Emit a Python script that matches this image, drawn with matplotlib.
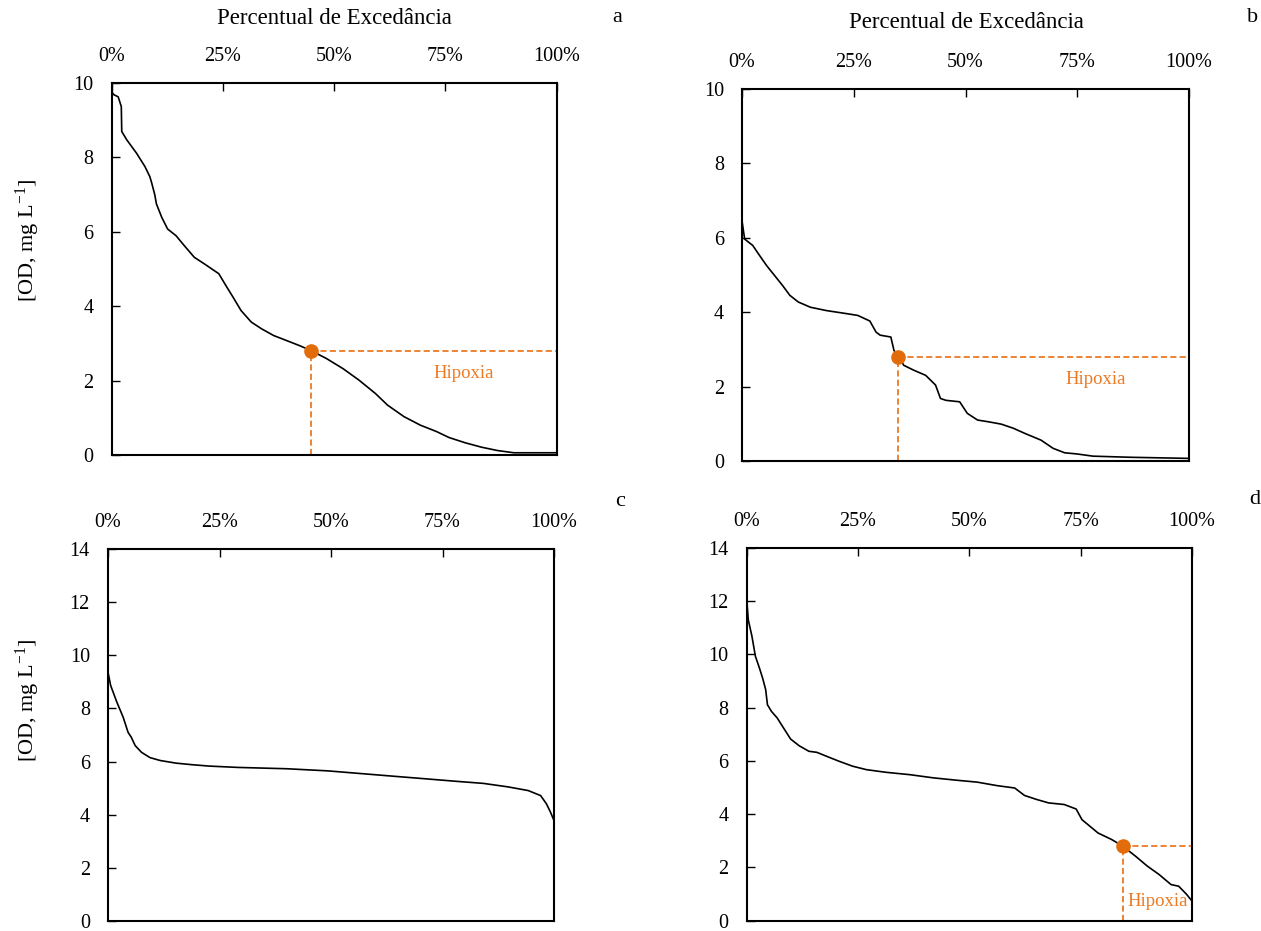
import matplotlib
matplotlib.use("Agg")
import matplotlib.pyplot as plt
from matplotlib.ticker import PercentFormatter

# exceedance (%) and dissolved oxygen (mg/L)
x_a = [0, 0.1, 0.5, 1.5, 2.2, 2.3, 3.4, 5.6, 7.5, 8.6, 9.0, 9.7, 10.1, 11.3, 12.6, 14.5,
       16.3, 18.6, 20.9, 24.1, 25.9, 27.3, 29.1, 31.4, 33.7, 36.4, 39.2, 42.4, 44.9,
       48.3, 52.0, 55.6, 59.3, 62.0, 65.7, 69.4, 73.0, 75.8, 79.4, 83.1, 86.7, 90.4, 100]
y_a = [10.0, 9.75, 9.68, 9.62, 9.36, 8.69, 8.47, 8.11, 7.75, 7.48, 7.32, 7.0, 6.74, 6.38,
       6.07, 5.89, 5.63, 5.31, 5.13, 4.87, 4.51, 4.24, 3.88, 3.57, 3.39, 3.21, 3.08, 2.93,
       2.8, 2.59, 2.32, 2.01, 1.65, 1.34, 1.03, 0.80, 0.63, 0.47, 0.33, 0.21, 0.12, 0.06, 0.06]

x_b = [0, 0.3, 0.6, 2.4, 3.7, 5.5, 7.3, 9.1, 10.7, 12.6, 15.3, 18.9, 23.3, 25.9, 28.6,
       30.0, 30.9, 33.3, 34.0, 35.0, 36.2, 38.4, 41.1, 43.3, 44.4, 45.6, 48.7, 50.4, 52.7,
       55.3, 58.0, 60.7, 63.3, 66.9, 69.6, 72.2, 74.9, 78.5, 86.9, 100]
y_b = [6.46, 6.2, 5.96, 5.79, 5.56, 5.25, 4.98, 4.71, 4.45, 4.27, 4.13, 4.04, 3.96, 3.91,
       3.76, 3.46, 3.38, 3.33, 2.97, 2.8, 2.57, 2.44, 2.30, 2.04, 1.68, 1.63, 1.59, 1.28,
       1.10, 1.05, 0.99, 0.88, 0.74, 0.56, 0.34, 0.22, 0.19, 0.13, 0.10, 0.07]

x_c = [0, 0.6, 2.0, 3.4, 4.5, 5.2, 6.1, 7.5, 9.4, 11.7, 15.3, 19.0, 22.7, 29.1, 40.1,
       49.3, 56.6, 63.9, 71.3, 78.6, 84.1, 89.6, 94.2, 97.0, 98.3, 99.2, 100]
y_c = [9.36, 8.86, 8.23, 7.67, 7.1, 6.92, 6.6, 6.35, 6.15, 6.04, 5.94, 5.88, 5.83, 5.78,
       5.73, 5.65, 5.55, 5.45, 5.35, 5.25, 5.18, 5.05, 4.91, 4.72, 4.41, 4.1, 3.78]

x_d = [0, 0.4, 1.2, 2.0, 2.9, 3.6, 4.3, 4.7, 5.6, 6.9, 8.3, 9.9, 11.8, 14.0, 15.8, 18.0,
       20.7, 23.8, 26.9, 31.3, 36.7, 42.0, 47.3, 51.8, 56.2, 60.2, 62.4, 65.1, 67.8, 71.3,
       74.0, 75.3, 77.1, 78.9, 82.0, 84.4, 87.3, 90.0, 92.6, 95.3, 97.0, 98.8, 100]
y_d = [12.18, 11.3, 10.7, 9.93, 9.49, 9.12, 8.68, 8.11, 7.86, 7.61, 7.24, 6.82, 6.57, 6.36,
       6.32, 6.17, 5.99, 5.80, 5.67, 5.57, 5.48, 5.36, 5.27, 5.20, 5.07, 4.98, 4.70, 4.55,
       4.42, 4.36, 4.19, 3.79, 3.54, 3.29, 3.04, 2.8, 2.42, 2.04, 1.73, 1.35, 1.29, 0.98, 0.73]

hipoxia = 2.8
hx_a = 44.9
hx_b = 35.0
hx_d = 84.4

plt.rcParams['font.family'] = ['Liberation Serif', 'DejaVu Serif']
plt.rcParams['mathtext.fontset'] = 'custom'
plt.rcParams['mathtext.rm'] = 'Liberation Serif'

ORANGE = '#EB7A25'
DOT = '#E36C0A'
W, H = 1261, 931

fig = plt.figure(figsize=(W / 100, H / 100), dpi=100)


def box(l, t, r, b):
    return [l / W, 1 - b / H, (r - l) / W, (b - t) / H]


def panel(rect, x, y, ymax, ystep):
    ax = fig.add_axes(rect)
    ax.plot(x, y, color='black', lw=1.2)
    ax.set_xlim(0, 100)
    ax.set_ylim(0, ymax)
    ax.set_xticks([0, 25, 50, 75, 100])
    ax.set_yticks(range(0, ymax + 1, ystep))
    ax.xaxis.set_major_formatter(PercentFormatter(100, decimals=0))
    ax.xaxis.tick_top()
    ax.tick_params(axis='x', direction='in', length=6, width=1, pad=12, labelsize=14.5)
    ax.tick_params(axis='y', direction='in', length=6, width=1, pad=13, labelsize=14.5)
    for s in ax.spines.values():
        s.set_linewidth(1.5)
    return ax


def hipoxia_marks(ax, hx):
    ax.plot([hx, 100], [hipoxia, hipoxia], ls=(0, (3.4, 1.8)), color=ORANGE, lw=1.3)
    ax.plot([hx, hx], [0, hipoxia], ls=(0, (3.4, 1.8)), color=ORANGE, lw=1.3)
    ax.plot([hx], [hipoxia], 'o', color=DOT, ms=9.5, zorder=5)


ax_a = panel(box(111.5, 82.7, 556.7, 455), x_a, y_a, 10, 2)
ax_b = panel(box(742, 88.7, 1189, 461), x_b, y_b, 10, 2)
ax_c = panel(box(108, 549, 554, 921), x_c, y_c, 14, 2)
ax_d = panel(box(746.5, 548, 1192, 920.5), x_d, y_d, 14, 2)

hipoxia_marks(ax_a, hx_a)
hipoxia_marks(ax_b, hx_b)
hipoxia_marks(ax_d, hx_d)

ax_a.text(79.0, 2.18, 'Hipoxia', color=ORANGE, fontsize=13.5, ha='center', va='center')
ax_b.text(79.2, 2.2, 'Hipoxia', color=ORANGE, fontsize=13.5, ha='center', va='center')
ax_d.text(85.6, 0.73, 'Hipoxia', color=ORANGE, fontsize=13.5, ha='left', va='center')

titulo = 'Percentual de Excedância'
fig.text(334 / W, 1 - 18 / H, titulo, fontsize=16.5, ha='center', va='center')
fig.text(966 / W, 1 - 23 / H, titulo, fontsize=16.5, ha='center', va='center')

ylab = r'[OD, mg $\mathregular{L^{-1}}$]'
fig.text(28 / W, 1 - 240 / H, ylab, fontsize=16, rotation=90, ha='center', va='center')
fig.text(28 / W, 1 - 700 / H, ylab, fontsize=16, rotation=90, ha='center', va='center')

for lt, px, py in [('a', 617, 18), ('b', 1253, 17), ('c', 620, 501), ('d', 1255, 500)]:
    fig.text(px / W, 1 - py / H, lt, fontsize=16, ha='center', va='center')

fig.savefig('out.png', dpi=100)
